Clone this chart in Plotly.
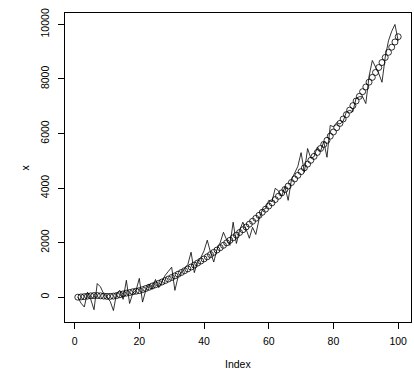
import plotly.graph_objects as go

index = list(range(1, 101))

# noisy series drawn as a line
line_values = [
    0, -220, -360, 180, -80, -460, 500, 380, 120, -20,
    -150, -490, 150, 250, -80, 620, -230, 150, 250, 690,
    -180, 250, 480, 300, 650, 350, 600, 800, 950, 1100,
    250, 750, 900, 1050, 1200, 1650, 900, 1300, 1450, 1700,
    2090, 1650, 1290, 1750, 2000, 2380, 2100, 1900, 2750, 1970,
    2450, 2750, 2500, 2160, 2560, 2300, 2850, 3200, 3250, 3550,
    3500, 3990, 3900, 3700, 4050, 3550, 4300, 4550, 4800, 5300,
    4580, 5450, 5100, 5150, 5500, 5350, 5700, 5130, 6300, 6250,
    6400, 6350, 6450, 6800, 6850, 6800, 7300, 7350, 7350, 7100,
    8100, 8680, 8450, 8200, 7880, 8800, 9400, 9750, 10000, 9400,
]

# smooth series drawn as open circles
point_values = [
    0, 10, 20, 40, 50, 60, 60, 50, 40, 30,
    30, 40, 60, 90, 120, 150, 170, 200, 220, 240,
    278, 319, 363, 409, 456, 506, 557, 610, 666, 723,
    782, 843, 906, 971, 1038, 1107, 1178, 1251, 1325, 1402,
    1481, 1561, 1644, 1728, 1814, 1903, 1993, 2085, 2179, 2275,
    2373, 2473, 2575, 2679, 2784, 2892, 3002, 3113, 3227, 3342,
    3459, 3579, 3700, 3823, 3948, 4075, 4204, 4335, 4468, 4603,
    4740, 4878, 5019, 5162, 5306, 5453, 5601, 5751, 5904, 6058,
    6214, 6372, 6532, 6694, 6858, 7024, 7192, 7362, 7534, 7707,
    7883, 8060, 8240, 8421, 8604, 8790, 8977, 9166, 9357, 9550,
]

x_ticks = [0, 20, 40, 60, 80, 100]
y_ticks = [0, 2000, 4000, 6000, 8000, 10000]
y_tick_labels = ["0", "2000", "4000", "6000", "8000", "10000"]

FONT = "Liberation Sans, Arial, sans-serif"

fig = go.Figure()
fig.add_trace(go.Scatter(x=index, y=line_values, mode="lines",
                         line=dict(color="black", width=0.8), showlegend=False))
fig.add_trace(go.Scatter(x=index, y=point_values, mode="markers",
                         marker=dict(symbol="circle-open", size=6,
                                     color="black", line=dict(width=0.8)),
                         showlegend=False))

xmin, xmax = min(index), max(index)
ymin, ymax = min(line_values + point_values), max(line_values + point_values)
xe = 0.04 * (xmax - xmin)
ye = 0.04 * (ymax - ymin)

fig.update_layout(
    width=414, height=374,
    margin=dict(l=65, r=3, t=13, b=52),
    paper_bgcolor="white", plot_bgcolor="white",
    font=dict(family=FONT, size=10.5, color="black"),
    xaxis=dict(range=[xmin - xe, xmax + xe], tickvals=x_ticks,
               ticks="outside", ticklen=6, tickcolor="black", tickwidth=1,
               showline=True, mirror=True, linecolor="black", linewidth=1,
               showgrid=False, zeroline=False, ticklabelstandoff=3),
    yaxis=dict(range=[ymin - ye, ymax + ye], tickvals=y_ticks,
               ticktext=y_tick_labels, tickangle=-90,
               ticks="outside", ticklen=6, tickcolor="black", tickwidth=1,
               showline=True, mirror=True, linecolor="black", linewidth=1,
               showgrid=False, zeroline=False, ticklabelstandoff=5),
    annotations=[
        dict(text="Index", xref="paper", yref="paper", x=0.5, y=0,
             xanchor="center", yanchor="middle", yshift=-41.5,
             showarrow=False, font=dict(size=10.5)),
        dict(text="x", xref="paper", yref="paper", x=0, y=0.5,
             xanchor="center", yanchor="middle", xshift=-41, textangle=-90,
             showarrow=False, font=dict(size=10.5)),
    ],
)

fig.write_html("out.html")
